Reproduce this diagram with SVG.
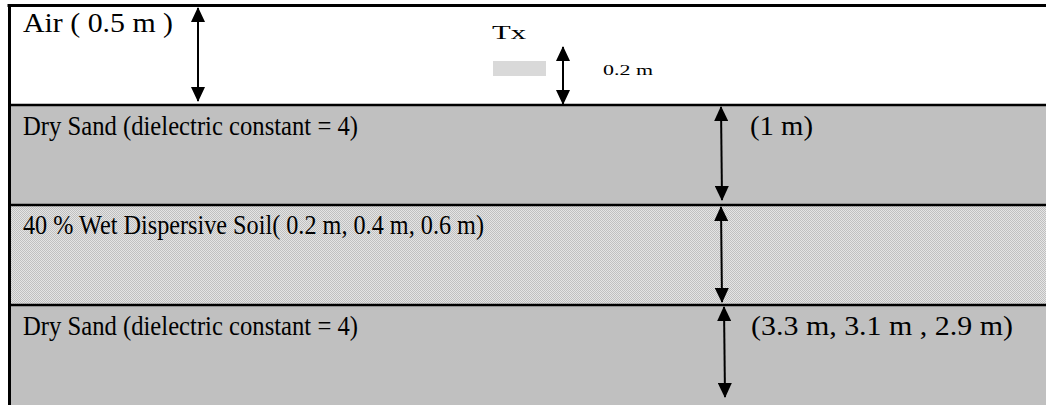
<svg xmlns="http://www.w3.org/2000/svg" width="1046" height="405" viewBox="0 0 1046 405">
<defs>
<pattern id="stip" width="2" height="2" patternUnits="userSpaceOnUse">
<rect width="2" height="2" fill="#e4e4e4"/>
<rect width="1" height="1" fill="#c0c0c0"/>
<rect x="1" y="1" width="1" height="1" fill="#c0c0c0"/>
</pattern>
<marker id="ah" viewBox="0 0 15 14" refX="14" refY="7" markerWidth="15" markerHeight="14" markerUnits="userSpaceOnUse" orient="auto-start-reverse">
<path d="M0,0 L15,7 L0,14 Z" fill="#000"/>
</marker>
<style>
.t{font-family:"Liberation Serif","Times New Roman",serif;font-size:27px;fill:#000}
.m{font-family:"Liberation Serif","Times New Roman",serif;font-size:18px;fill:#000}
.s{font-family:"Liberation Serif","Times New Roman",serif;font-size:14px;fill:#000}
.sep{stroke:#000;stroke-width:2.5}
.arr{stroke:#000;stroke-width:2;fill:none;marker-start:url(#ah);marker-end:url(#ah)}
</style>
</defs>
<rect width="1046" height="405" fill="#fff"/>
<g id="air">
<rect x="9" y="5" width="1037" height="100" fill="#fff"/>
<text class="t" x="23" y="32" textLength="150" lengthAdjust="spacingAndGlyphs">Air ( 0.5 m )</text>
</g>
<g id="tx">
<rect x="493" y="61" width="53" height="15" fill="#d9d9d9"/>
<text class="m" x="492" y="39" textLength="34" lengthAdjust="spacingAndGlyphs">Tx</text>
<text class="s" x="603" y="75" textLength="50" lengthAdjust="spacingAndGlyphs">0.2 m</text>
</g>
<g id="drysand1">
<rect x="9" y="105" width="1037" height="100" fill="#c0c0c0"/>
<text class="t" x="23" y="135" textLength="335" lengthAdjust="spacingAndGlyphs">Dry Sand (dielectric constant = 4)</text>
<text class="t" x="750" y="135" textLength="63" lengthAdjust="spacingAndGlyphs">(1 m)</text>
</g>
<g id="wetsoil">
<rect x="9" y="205" width="1037" height="100" fill="url(#stip)"/>
<text class="t" x="23" y="234" textLength="461" lengthAdjust="spacingAndGlyphs">40 % Wet Dispersive Soil( 0.2 m, 0.4 m, 0.6 m)</text>
</g>
<g id="drysand2">
<rect x="9" y="305" width="1037" height="100" fill="#c0c0c0"/>
<text class="t" x="23" y="335" textLength="335" lengthAdjust="spacingAndGlyphs">Dry Sand (dielectric constant = 4)</text>
<text class="t" x="751" y="335" textLength="262" lengthAdjust="spacingAndGlyphs">(3.3 m, 3.1 m , 2.9 m)</text>
</g>
<g id="borders">
<line class="sep" x1="9" y1="105" x2="1046" y2="105"/>
<line class="sep" x1="9" y1="205" x2="1046" y2="205"/>
<line class="sep" x1="9" y1="305" x2="1046" y2="305"/>
<line x1="7.5" y1="5.5" x2="1046" y2="5.5" stroke="#000" stroke-width="3"/>
<line x1="9.5" y1="4" x2="9.5" y2="405" stroke="#000" stroke-width="3"/>
</g>
<g id="connectors">
<line class="arr" x1="198" y1="8" x2="198" y2="101"/>
<line class="arr" x1="563" y1="47" x2="563" y2="104"/>
<line class="arr" x1="721" y1="107" x2="722" y2="200"/>
<line class="arr" x1="721" y1="207" x2="722" y2="302"/>
<line class="arr" x1="724" y1="307" x2="725" y2="397"/>
</g>
</svg>
